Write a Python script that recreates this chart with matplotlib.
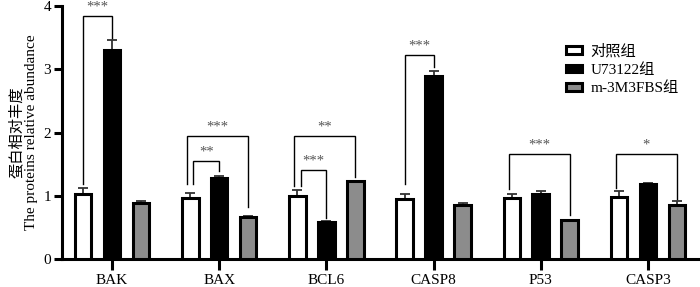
import matplotlib
matplotlib.use("Agg")
import matplotlib.pyplot as plt
import numpy as np

plt.rcParams['font.family'] = ['Liberation Serif', 'Noto Sans CJK SC']

categories = ["BAK", "BAX", "BCL6", "CASP8", "P53", "CASP3"]
series_names = ["对照组", "U73122组", "m-3M3FBS组"]
control = [1.03, 0.97, 1.00, 0.95, 0.97, 0.98]
u73122 = [3.30, 1.28, 0.58, 2.90, 1.03, 1.19]
m3m3fbs = [0.89, 0.67, 1.23, 0.85, 0.61, 0.86]
control_err = [0.09, 0.08, 0.09, 0.08, 0.06, 0.10]
u73122_err = [0.16, 0.04, 0.02, 0.07, 0.04, 0.01]
m3m3fbs_err = [0.03, 0.01, 0.01, 0.04, 0.01, 0.05]

# significance brackets: (category index, bar a, bar b, top, leg a bottom, leg b bottom, label)
brackets = [
    (0, 0, 1, 3.84, 1.19, 3.49, "***"),
    (1, 0, 2, 1.94, 1.19, 0.82, "***"),
    (1, 0, 1, 1.55, 1.19, 1.39, "**"),
    (2, 0, 2, 1.94, 1.15, 1.29, "**"),
    (2, 0, 1, 1.41, 1.15, 0.65, "***"),
    (3, 0, 1, 3.22, 1.19, 3.03, "***"),
    (4, 0, 2, 1.66, 1.10, 0.70, "***"),
    (5, 0, 2, 1.66, 1.12, 0.95, "*"),
]

fig = plt.figure(figsize=(7.0, 2.87), dpi=100)
ax = fig.add_axes([0.0886, 0.0976, 0.9114, 0.881])

x = np.arange(len(categories))
off = 0.27
w = 0.155
colors = ["white", "black", "#8c8c8c"]
vals = [control, u73122, m3m3fbs]
errs = [control_err, u73122_err, m3m3fbs_err]
for i in range(3):
    pos = x + (i - 1) * off
    ax.bar(pos, vals[i], width=w, color=colors[i], edgecolor="black",
           linewidth=2.2, label=series_names[i], zorder=3)
    ax.errorbar(pos, vals[i], yerr=[np.zeros(len(x)), errs[i]], fmt="none",
                ecolor="#333333", elinewidth=1.3, capsize=3.5, capthick=1.3, zorder=2)

for (ci, a, b, top, la, lb, lab) in brackets:
    xa = ci + (a - 1) * off
    xb = ci + (b - 1) * off
    if a == 0 and b == 2:
        xa -= 0.03
    elif a == 0 and b == 1 and ci in (1, 2):
        xa += 0.03
    ax.plot([xa, xa, xb, xb], [la, top, top, lb], color="black", lw=1.0,
            solid_joinstyle="miter", zorder=4)
    ax.text((xa + xb) / 2, top + 0.04, lab, ha="center", va="bottom",
            fontsize=10.5, color="#555555")

ax.set_xlim(-0.466, 5.485)
ax.set_ylim(0, 4)
ax.set_yticks([0, 1, 2, 3, 4])
ax.set_xticks(x)
ax.set_xticklabels(categories, fontsize=11)
ax.tick_params(axis="y", labelsize=11, width=2.2, length=6, pad=2)
ax.tick_params(axis="x", width=2.2, length=8, pad=2.5)
for s in ["top", "right"]:
    ax.spines[s].set_visible(False)
for s in ["left", "bottom"]:
    ax.spines[s].set_linewidth(2.2)
ax.set_ylabel("蛋白相对丰度\nThe proteins relative abundance", fontsize=11,
              linespacing=1.1, labelpad=4)

ax.legend(loc="upper left", bbox_to_anchor=(0.79, 0.85), frameon=False,
          fontsize=11, handlelength=1.05, handleheight=0.4, labelspacing=0.3,
          handletextpad=0.55, borderpad=0, borderaxespad=0)

fig.savefig("out.png", dpi=100)
